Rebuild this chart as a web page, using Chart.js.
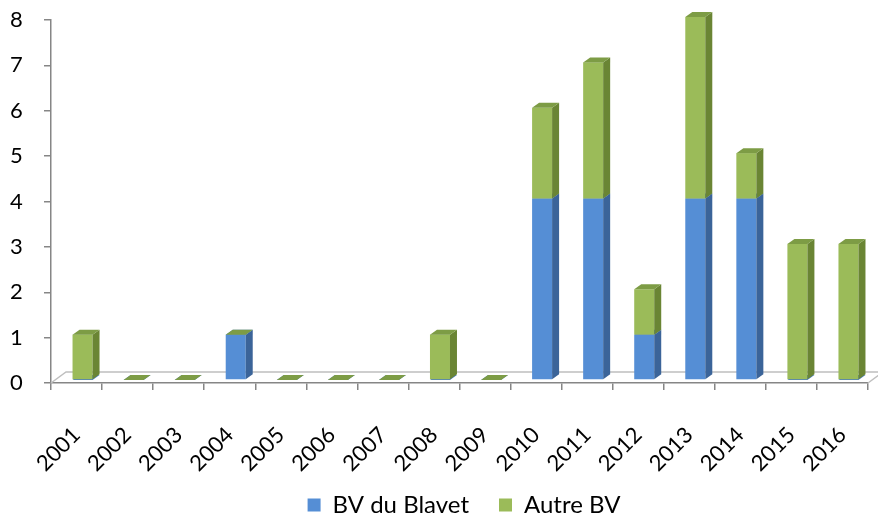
<!DOCTYPE html>
<html>
<head>
<meta charset="utf-8">
<script src="https://cdn.jsdelivr.net/npm/chart.js@4.4.1/dist/chart.umd.min.js"></script>
<style>
  html, body { margin: 0; padding: 0; background: #ffffff; }
  #wrap { width: 878px; height: 516px; position: relative; }
</style>
</head>
<body>
<div id="wrap"><canvas id="chart"></canvas></div>
<script>
// Years on the horizontal axis
const years = ['2001', '2002', '2003', '2004', '2005', '2006', '2007', '2008',
               '2009', '2010', '2011', '2012', '2013', '2014', '2015', '2016'];
// Counts per year, stacked
const blavet = [0, 0, 0, 1, 0, 0, 0, 0, 0, 4, 4, 1, 4, 4, 0, 0];
const autre  = [1, 0, 0, 0, 0, 0, 0, 1, 0, 2, 3, 1, 4, 1, 3, 3];
// Value axis ticks
const yTicks = [0, 1, 2, 3, 4, 5, 6, 7, 8];

const seriesNames = ['BV du Blavet', 'Autre BV'];

// Face colours for the pseudo-3D columns
const faces = [
  { front: '#558ED5', side: '#3B6499', top: '#4A7CBF' },
  { front: '#9BBB59', side: '#6A8534', top: '#7D9C45' }
];

// Depth offsets: column front face, column side depth, floor depth
const depth = { fx: 6, fy: -3, sx: 7, sy: -5, floorX: 15, floorY: -11 };

const FONT = 'Lato, "Open Sans", "Noto Sans", sans-serif';
const LEGEND_FONT = 24;
const LEGEND_GAP = 30;

const column3d = {
  id: 'column3d',
  afterLayout(chart) {
    // let the slanted year labels use the space down to the legend
    const xs = chart.scales.x;
    if (xs) xs.bottom = chart.height - 30;
    // place the legend row near the bottom edge, centred under the columns
    const lg = chart.legend;
    if (lg) {
      const dy = 505 - (lg.top + LEGEND_GAP + LEGEND_FONT / 2);
      const dx = 464 - (lg.left + lg.right) / 2;
      lg.top += dy; lg.bottom += dy;
      lg.left += dx; lg.right += dx;
    }
  },
  beforeDatasetsDraw(chart) {
    // floor of the plot: back edge and the two depth edges
    const { ctx, chartArea: a } = chart;
    ctx.save();
    ctx.strokeStyle = '#BFBFBF';
    ctx.lineWidth = 1.5;
    ctx.beginPath();
    ctx.moveTo(a.left, a.bottom);
    ctx.lineTo(a.left + depth.floorX, a.bottom + depth.floorY);
    ctx.lineTo(a.right + depth.floorX, a.bottom + depth.floorY);
    ctx.moveTo(a.right, a.bottom);
    ctx.lineTo(a.right + depth.floorX, a.bottom + depth.floorY);
    ctx.stroke();
    ctx.restore();
  },
  beforeDatasetDraw() {
    // flat bars are replaced by the extruded columns drawn below
    return false;
  },
  afterDatasetsDraw(chart) {
    const ctx = chart.ctx;
    const n = chart.data.labels.length;
    ctx.save();
    for (let i = 0; i < n; i++) {
      chart.data.datasets.forEach((ds, d) => {
        const el = chart.getDatasetMeta(d).data[i];
        if (!el) return;
        const p = el.getProps(['x', 'y', 'base', 'width'], true);
        const l = p.x - p.width / 2 + depth.fx;
        const r = p.x + p.width / 2 + depth.fx;
        const t = Math.min(p.y, p.base) + depth.fy;
        const b = Math.max(p.y, p.base) + depth.fy;
        const c = faces[d];
        // front
        ctx.fillStyle = c.front;
        ctx.fillRect(l, t, r - l, b - t);
        // side
        ctx.fillStyle = c.side;
        ctx.beginPath();
        ctx.moveTo(r, t);
        ctx.lineTo(r + depth.sx, t + depth.sy);
        ctx.lineTo(r + depth.sx, b + depth.sy);
        ctx.lineTo(r, b);
        ctx.closePath();
        ctx.fill();
        // top
        ctx.fillStyle = c.top;
        ctx.beginPath();
        ctx.moveTo(l, t);
        ctx.lineTo(l + depth.sx, t + depth.sy);
        ctx.lineTo(r + depth.sx, t + depth.sy);
        ctx.lineTo(r, t);
        ctx.closePath();
        ctx.fill();
      });
    }
    ctx.restore();
  }
};

new Chart(document.getElementById('chart'), {
  type: 'bar',
  data: {
    labels: years,
    datasets: [
      { label: seriesNames[0], data: blavet, backgroundColor: faces[0].front, borderWidth: 0,
        barThickness: 20 },
      { label: seriesNames[1], data: autre, backgroundColor: faces[1].front, borderWidth: 0,
        barThickness: 20 }
    ]
  },
  options: {
    responsive: true,
    maintainAspectRatio: false,
    animation: false,
    layout: { padding: { left: 10, right: 10, top: 20, bottom: 0 } },
    plugins: {
      legend: {
        position: 'bottom',
        labels: {
          boxWidth: 13, boxHeight: 13, padding: LEGEND_GAP,
          color: '#000000',
          font: { family: FONT, size: LEGEND_FONT }
        }
      },
      tooltip: { enabled: false }
    },
    scales: {
      x: {
        stacked: true,
        offset: true,
        grid: { display: true, offset: true, drawOnChartArea: false, drawTicks: true,
                tickLength: 7, color: '#868686', lineWidth: 1.5 },
        border: { display: true, color: '#868686', width: 1.5 },
        ticks: { color: '#000000', font: { family: FONT, size: 22 },
                 minRotation: 45, maxRotation: 45, padding: 32, autoSkip: false },
        afterFit(scale) {
          scale.height = 69;
          scale.paddingLeft = 0;
          scale.paddingRight = 0;
        }
      },
      y: {
        stacked: true,
        min: 0, max: 8,
        grid: { display: true, drawOnChartArea: false, drawTicks: true,
                tickLength: 7, color: '#868686', lineWidth: 1.5 },
        border: { display: true, color: '#868686', width: 1.5 },
        ticks: { color: '#000000', font: { family: FONT, size: 22 }, padding: 0,
                 crossAlign: 'far' },
        afterBuildTicks(scale) { scale.ticks = yTicks.map(v => ({ value: v })); },
        afterFit(scale) { scale.width = 41; }
      }
    }
  },
  plugins: [column3d]
});
</script>
</body>
</html>
